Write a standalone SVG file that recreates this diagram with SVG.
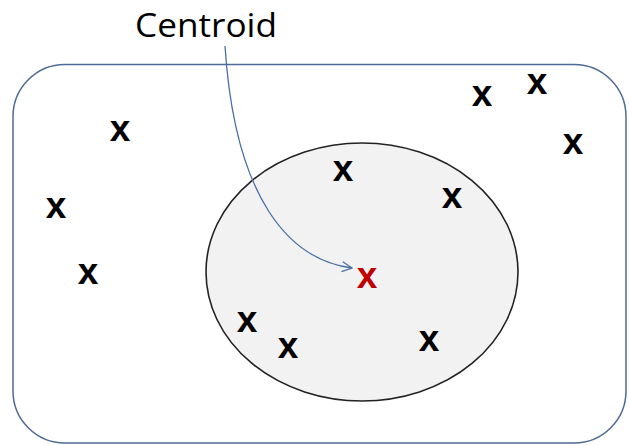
<svg xmlns="http://www.w3.org/2000/svg" width="629" height="445" viewBox="0 0 629 445">
<defs>
<style>
.pt{font-family:"Liberation Sans",Arial,sans-serif;font-weight:bold;font-size:37px;text-anchor:middle;fill:#000}
.red{fill:#c00000}
.lbl{font-family:"Open Sans","Liberation Sans",sans-serif;font-size:33px;fill:#000}
</style>
<marker id="arr" viewBox="0 0 12 12" refX="11" refY="6" markerWidth="12" markerHeight="12" markerUnits="userSpaceOnUse" orient="auto">
<path d="M1,1 L11,6 L1,11" fill="none" stroke="#4a6fa5" stroke-width="1.3"/>
</marker>
</defs>
<rect x="0" y="0" width="629" height="445" fill="#fff"/>
<g id="space">
<rect x="13" y="64.5" width="613" height="378.5" rx="52" ry="52" fill="none" stroke="#4f6a96" stroke-width="1.5"/>
</g>
<g id="cluster">
<ellipse cx="362" cy="272" rx="156" ry="129" fill="#f2f2f2" stroke="#222" stroke-width="1.6"/>
</g>
<g id="points">
<text class="pt" x="120" y="141">x</text>
<text class="pt" x="56" y="218">x</text>
<text class="pt" x="88" y="284">x</text>
<text class="pt" x="482" y="106">x</text>
<text class="pt" x="537" y="94">x</text>
<text class="pt" x="573" y="154">x</text>
<text class="pt" x="343" y="181">x</text>
<text class="pt" x="452" y="208">x</text>
<text class="pt" x="247" y="332">x</text>
<text class="pt" x="288" y="358">x</text>
<text class="pt" x="429" y="351">x</text>
</g>
<g id="centroid">
<text class="pt red" x="367" y="288">x</text>
</g>
<g id="label">
<text class="lbl" x="135" y="37" textLength="142" lengthAdjust="spacingAndGlyphs">Centroid</text>
</g>
<g id="connectors">
<path d="M225,46 C235,200 290,260 352,268" fill="none" stroke="#4a6fa5" stroke-width="1.3" marker-end="url(#arr)"/>
</g>
</svg>
